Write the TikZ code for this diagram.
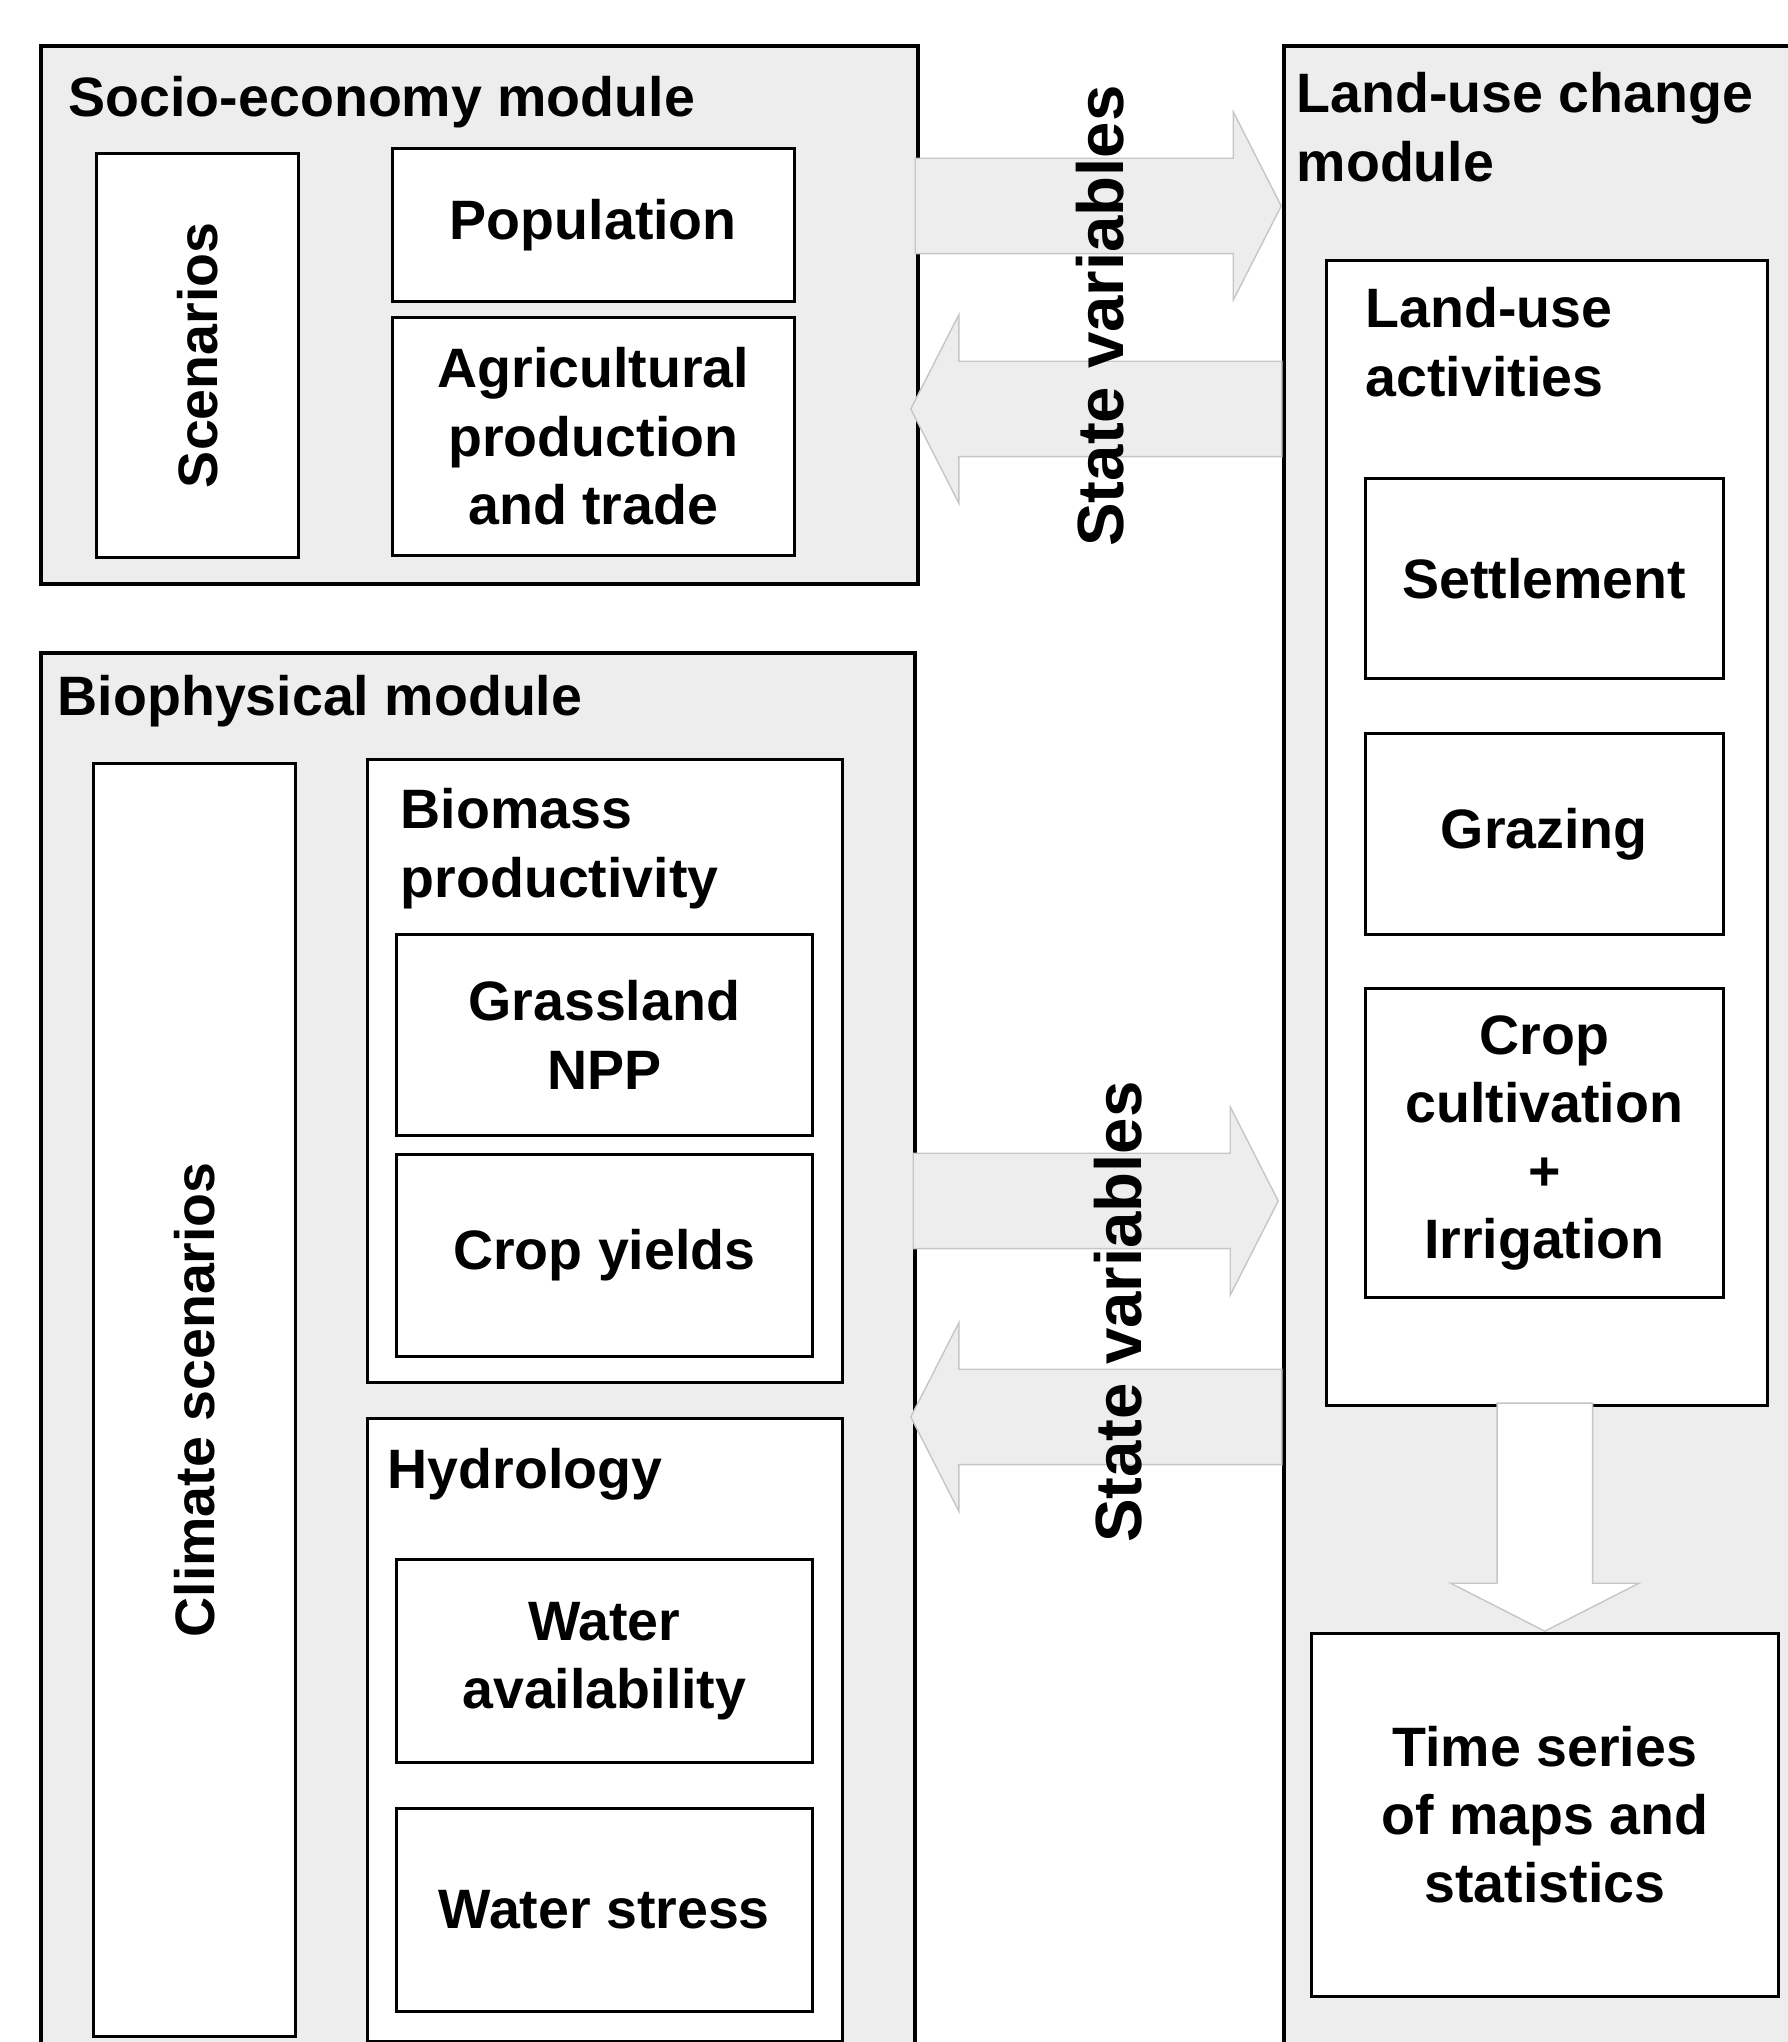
\documentclass[tikz,border=0pt]{standalone}
\usepackage{fontspec}
\usepackage{graphicx}
\setmainfont{Liberation Sans}
\usetikzlibrary{shapes.arrows,calc}

\newcommand{\boxfont}{\fontsize{15.8}{19.4}\selectfont\bfseries}
\newcommand{\svfont}{\fontsize{18.6}{22}\selectfont\bfseries}

\begin{document}
\begin{tikzpicture}
  [every node/.style={font=\boxfont},
   module/.style={rectangle,draw,line width=1.1pt,fill=black!7,anchor=north west,inner sep=0},
   box/.style={rectangle,draw,line width=0.75pt,fill=white,anchor=north west,align=center,inner sep=0},
   head/.style={anchor=north west,align=left,inner sep=0},
   bigarrow/.style={single arrow,draw=gray!45,line width=0.4pt,fill=black!7,inner xsep=0,inner ysep=0.47cm,
     single arrow head extend=0.465cm,single arrow tip angle=126,anchor=tip}]
  \useasboundingbox (0,0) rectangle (17.87,20.42);
  \clip (0,-0.2) rectangle (18.2,20.42);
  % modules
  \node[module,minimum width=8.77cm,minimum height=5.38cm] (socio) at (0.39,19.98) {};
  \node[module,minimum width=8cm,minimum height=21cm] (landuse) at (12.82,19.98) {};
  \node[module,minimum width=8.74cm,minimum height=14.6cm] (bio) at (0.39,13.91) {};
  \node[head] (t1) at (0.68,19.66) {Socio-economy module};
  \node[head] (t2) at (12.96,19.70) {Land-use change\\module};
  \node[head] (t3) at (0.57,13.67) {Biophysical module};

  % socio-economy
  \node[box,minimum width=2.02cm,minimum height=4.04cm] (scen) at (0.95,18.90) {\rotatebox{90}{Scenarios}};
  \node[box,minimum width=4.02cm,minimum height=1.53cm] (pop) at (3.91,18.95) {Population};
  \node[box,minimum width=4.02cm,minimum height=2.38cm] (agri) at (3.91,17.26) {Agricultural\\production\\and trade};

  % land-use change
  \node[box,minimum width=4.41cm,minimum height=11.45cm] (act) at (13.25,17.83) {};
  \node[head] (t4) at (13.65,17.55) {Land-use\\activities};
  \node[box,minimum width=3.58cm,minimum height=2.00cm] (settle) at (13.64,15.65) {Settlement};
  \node[box,minimum width=3.58cm,minimum height=2.01cm] (graze) at (13.64,13.10) {Grazing};
  \node[box,minimum width=3.58cm,minimum height=3.09cm] (crop) at (13.64,10.55) {Crop\\cultivation\\+\\Irrigation};
  \node[box,minimum width=4.67cm,minimum height=3.63cm] (ts) at (13.10,4.10) {Time series\\of maps and\\statistics};

  % biophysical
  \node[box,minimum width=2.02cm,minimum height=12.73cm] (clim) at (0.92,12.80) {\rotatebox{90}{Climate scenarios}};
  \node[box,minimum width=4.75cm,minimum height=6.23cm] (biomass) at (3.66,12.84) {};
  \node[head] (t5) at (4.00,12.54) {Biomass\\productivity};
  \node[box,minimum width=4.16cm,minimum height=2.01cm] (npp) at (3.95,11.09) {Grassland\\NPP};
  \node[box,minimum width=4.16cm,minimum height=2.02cm] (yields) at (3.95,8.89) {Crop yields};
  \node[box,minimum width=4.75cm,minimum height=6.23cm] (hydro) at (3.66,6.25) {};
  \node[head] (t6) at (3.87,5.94) {Hydrology};
  \node[box,minimum width=4.16cm,minimum height=2.03cm] (wavail) at (3.95,4.84) {Water\\availability};
  \node[box,minimum width=4.16cm,minimum height=2.03cm] (wstress) at (3.95,2.35) {Water stress};

  % arrows
  \node[bigarrow,minimum height=3.66cm] (a1) at (landuse.west |- 0,18.36) {};
  \node[bigarrow,minimum height=3.71cm,rotate=180] (a2) at (9.10,16.33) {};
  \node[bigarrow,minimum height=3.65cm] (a3) at (12.79,8.41) {};
  \node[bigarrow,minimum height=3.71cm,rotate=180] (a4) at (9.10,6.25) {};
  \node[bigarrow,fill=white,minimum height=2.28cm,rotate=-90] (a5) at (ts.north) {};
  \node[rotate=90,font=\svfont] (sv1) at (11.00,17.26) {State variables};
  \node[rotate=90,font=\svfont] (sv2) at (11.18,7.30) {State variables};
\end{tikzpicture}
\end{document}
